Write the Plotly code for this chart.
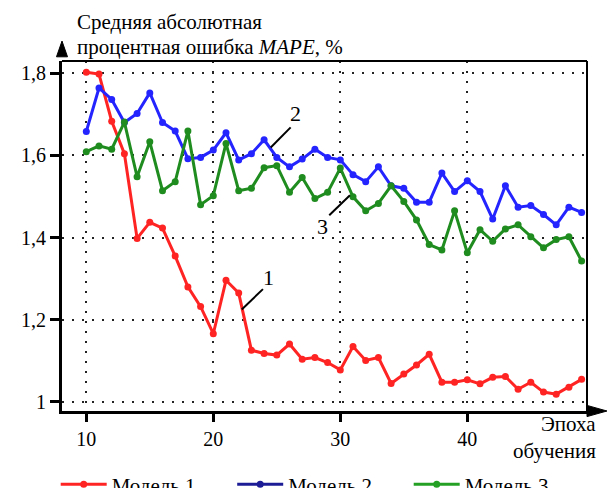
import plotly.graph_objects as go

epochs = list(range(10, 50))
model1 = [1.802, 1.798, 1.683, 1.604, 1.398, 1.437, 1.423, 1.355, 1.280, 1.232,
          1.166, 1.296, 1.265, 1.126, 1.118, 1.114, 1.141, 1.104, 1.108, 1.096,
          1.078, 1.135, 1.101, 1.108, 1.045, 1.068, 1.090, 1.116, 1.048, 1.048,
          1.054, 1.044, 1.060, 1.062, 1.031, 1.048, 1.024, 1.019, 1.036, 1.055]
model2 = [1.658, 1.764, 1.736, 1.680, 1.702, 1.752, 1.680, 1.659, 1.592, 1.595,
          1.613, 1.655, 1.589, 1.604, 1.638, 1.595, 1.572, 1.591, 1.615, 1.595,
          1.589, 1.553, 1.536, 1.572, 1.526, 1.520, 1.486, 1.486, 1.557, 1.512,
          1.538, 1.512, 1.445, 1.526, 1.474, 1.478, 1.456, 1.431, 1.474, 1.461]
model3 = [1.609, 1.623, 1.615, 1.681, 1.548, 1.633, 1.514, 1.536, 1.659, 1.480,
          1.502, 1.629, 1.514, 1.520, 1.570, 1.575, 1.510, 1.546, 1.495, 1.510,
          1.569, 1.499, 1.465, 1.483, 1.526, 1.488, 1.443, 1.383, 1.370, 1.465,
          1.363, 1.419, 1.391, 1.421, 1.431, 1.402, 1.375, 1.395, 1.402, 1.343]

series_names = ["Модель 1", "Модель 2", "Модель 3"]
line_colors = ["#ff2424", "#2424ff", "#1f8c1f"]
legend_colors = ["#ff2424", "#1c1c96", "#24a024"]

x_ticks = [10, 20, 30, 40]
y_ticks = [1.0, 1.2, 1.4, 1.6, 1.8]
y_ticktext = ["1", "1,2", "1,4", "1,6", "1,8"]

# curve labels: (text, text_x, text_y, line_x0, line_y0, line_x1, line_y1)
curve_labels = [
    ("1", 24.31, 1.304, 23.91, 1.2745, 22.24, 1.225),
    ("2", 26.49, 1.702, 26.09, 1.668, 24.52, 1.619),
    ("3", 28.58, 1.426, 29.13, 1.4545, 30.76, 1.503),
]

FONT = "Liberation Serif"

fig = go.Figure()
for vals, name, col in zip([model1, model2, model3], series_names, line_colors):
    fig.add_trace(go.Scatter(
        x=epochs, y=vals, mode="lines+markers", name=name,
        line=dict(color=col, width=3), marker=dict(color=col, size=7),
        showlegend=False))
for name, col in zip(series_names, legend_colors):
    fig.add_trace(go.Scatter(
        x=[None], y=[None], mode="lines+markers", name=name,
        line=dict(color=col, width=3), marker=dict(color=col, size=7),
        showlegend=True))

shapes = [
    dict(type="line", xref="paper", yref="paper", x0=0, y0=1, x1=1, y1=1,
         line=dict(color="black", width=2)),
    dict(type="line", xref="paper", yref="paper", x0=1, y0=0, x1=1, y1=1,
         line=dict(color="black", width=2)),
    dict(type="path", xref="paper", yref="paper",
         path="M -0.0105 1.012 L 0.0105 1.012 L 0 1.057 Z",
         fillcolor="black", line=dict(color="black", width=1)),
    dict(type="path", xref="paper", yref="paper",
         path="M 1.0 -0.016 L 1.0 0.016 L 1.038 0 Z",
         fillcolor="black", line=dict(color="black", width=1)),
]
annotations = []
for txt, tx, ty, lx0, ly0, lx1, ly1 in curve_labels:
    shapes.append(dict(type="line", xref="x", yref="y", x0=lx0, y0=ly0, x1=lx1, y1=ly1,
                       line=dict(color="black", width=2)))
    annotations.append(dict(text=txt, x=tx, y=ty, xref="x", yref="y", showarrow=False,
                            font=dict(family=FONT, size=22, color="black")))

annotations.append(dict(
    text="Средняя абсолютная", xref="paper", yref="paper", x=0.0246, y=1.111,
    xanchor="left", yanchor="middle", showarrow=False,
    font=dict(family=FONT, size=21, color="black")))
annotations.append(dict(
    text="процентная ошибка <i>MAPE</i>, %", xref="paper", yref="paper", x=0.0246, y=1.04,
    xanchor="left", yanchor="middle", showarrow=False,
    font=dict(family=FONT, size=21, color="black")))
annotations.append(dict(
    text="Эпоха", xref="paper", yref="paper", x=1.02, y=-0.037,
    xanchor="right", yanchor="middle", showarrow=False,
    font=dict(family=FONT, size=21, color="black")))
annotations.append(dict(
    text="обучения", xref="paper", yref="paper", x=1.02, y=-0.115,
    xanchor="right", yanchor="middle", showarrow=False,
    font=dict(family=FONT, size=21, color="black")))

fig.update_layout(
    width=608, height=488,
    margin=dict(l=62, r=21, t=61, b=77, autoexpand=False),
    paper_bgcolor="white", plot_bgcolor="white",
    font=dict(family=FONT, size=20, color="black"),
    shapes=shapes, annotations=annotations,
    showlegend=True,
    legend=dict(orientation="h", x=-0.012, xanchor="left", y=-0.152, yanchor="top",
                itemwidth=46, entrywidth=115.5, entrywidthmode="pixels",
                font=dict(family=FONT, size=21, color="black"),
                bgcolor="rgba(0,0,0,0)"),
)
fig.update_xaxes(
    range=[8.087, 49.425], tickvals=x_ticks, ticktext=[str(v) for v in x_ticks],
    showline=True, linecolor="black", linewidth=3, mirror=False,
    ticks="outside", ticklen=8, tickwidth=3, tickcolor="black",
    showgrid=True, gridcolor="#222222", gridwidth=2, griddash="2px,8px",
    zeroline=False, tickfont=dict(family=FONT, size=20, color="black"))
fig.update_yaxes(
    range=[0.978, 1.8296], tickvals=y_ticks, ticktext=y_ticktext,
    showline=True, linecolor="black", linewidth=3, mirror=False,
    ticks="outside", ticklen=9, tickwidth=3, tickcolor="black",
    showgrid=True, gridcolor="#222222", gridwidth=2, griddash="2px,8px",
    zeroline=False, tickfont=dict(family=FONT, size=20, color="black"))

fig.write_html("out.html", config={"displayModeBar": False},
               post_script="document.body.style.margin='0';")
